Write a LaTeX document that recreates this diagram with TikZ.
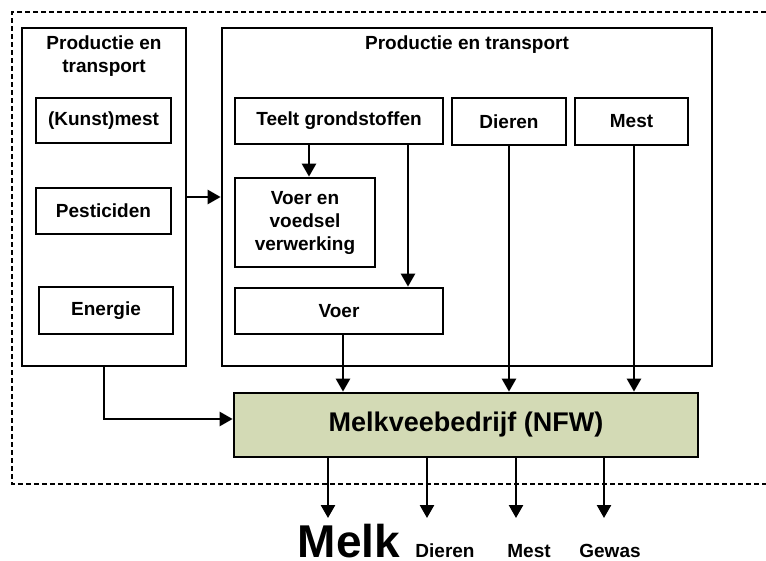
\documentclass[tikz,border=0pt]{standalone}
\usepackage{fontspec}
\setmainfont{Liberation Sans}
\usetikzlibrary{arrows.meta}
\definecolor{olivefill}{RGB}{211,218,181}
\tikzset{
  box/.style={draw=black, line width=2.7pt, fill=white, inner sep=0pt, align=center,
    font=\fontsize{19}{23}\selectfont\bfseries},
  txt/.style={inner sep=0pt, align=center, font=\fontsize{19}{23}\selectfont\bfseries},
  arr/.style={line width=2.5pt, -{Triangle[length=13pt,width=14pt]}},
  border/.style={line width=2.4pt, dash pattern=on 5pt off 3pt},
}
\begin{document}
\begin{tikzpicture}[x=1pt,y=-1pt]
\useasboundingbox (0,0) rectangle (766,560);
% dashed system border
\draw[border] (766,12) -- (12,12) -- (12,484) -- (766,484);

% outer boxes
\node[box, minimum width=164, minimum height=338] (lb) at (104,197) {};
\node[box, minimum width=490, minimum height=338] (rb) at (467,197) {};
\node[txt, anchor=north] (lbt) at (104,35.5) {Productie en\\transport};
\node[txt, anchor=base] (rbt) at (467,49) {Productie en transport};

% left column
\node[box, minimum width=135, minimum height=45] (kunst) at (103.5,120.5) {(Kunst)mest};
\node[box, minimum width=135, minimum height=46] (pest) at (103.5,211) {Pesticiden};
\node[box, minimum width=134, minimum height=47] (energie) at (106,310.5) {Energie};

% right column
\node[box, minimum width=208, minimum height=46] (teelt) at (339,121) {Teelt grondstoffen};
\node[box, minimum width=114, minimum height=47] (dieren) at (509,121.5) {Dieren};
\node[box, minimum width=113, minimum height=47] (mest) at (631.5,121.5) {Mest};
\node[box, minimum width=140, minimum height=89] (vv) at (305,222.5) {Voer en\\voedsel\\verwerking};
\node[box, minimum width=208, minimum height=46] (voer) at (339,311) {Voer};

% dairy farm
\node[box, fill=olivefill, minimum width=464, minimum height=64,
      font=\fontsize{27}{30}\selectfont\bfseries] (farm) at (466,425) {Melkveebedrijf (NFW)};

% helper coordinates
\coordinate (c309) at (309,0);
\coordinate (c408) at (408,0);
\coordinate (c197) at (0,197);
\coordinate (c104) at (104,0);
\coordinate (c419) at (0,419);
\coordinate (c343) at (343,0);
\coordinate (c634) at (634,0);
\coordinate (o1) at (328,518);
\coordinate (o2) at (427,518);
\coordinate (o3) at (516,518);
\coordinate (o4) at (604,518);

% connectors
\draw[arr] (teelt.south -| c309) -- (vv.north -| c309);
\draw[arr] (teelt.south -| c408) -- (voer.north -| c408);
\draw[arr] (lb.east |- c197) -- (rb.west |- c197);
\draw[arr] (lb.south -| c104) |- (farm.west |- c419);
\draw[arr] (voer.south -| c343) -- (farm.north -| c343);
\draw[arr] (dieren.south) -- (farm.north -| dieren.south);
\draw[arr] (mest.south -| c634) -- (farm.north -| c634);

\draw[arr] (farm.south -| o1) -- (o1);
\draw[arr] (farm.south -| o2) -- (o2);
\draw[arr] (farm.south -| o3) -- (o3);
\draw[arr] (farm.south -| o4) -- (o4);

% outputs
\node[inner sep=0pt, anchor=base, font=\fontsize{46}{46}\selectfont\bfseries] (melk) at (349,557) {Melk};
\node[txt, anchor=base] (odieren) at (445,557) {Dieren};
\node[txt, anchor=base] (omest) at (529,557) {Mest};
\node[txt, anchor=base] (ogewas) at (610,557) {Gewas};
\end{tikzpicture}
\end{document}
